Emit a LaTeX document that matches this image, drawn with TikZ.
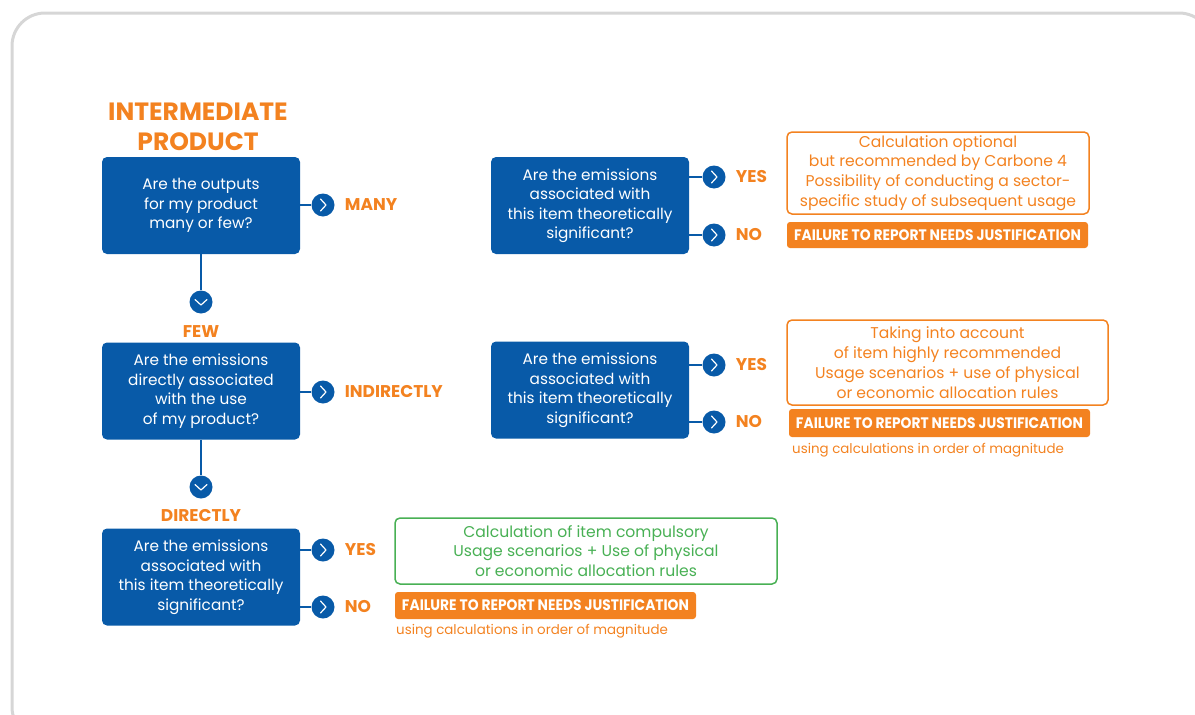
\documentclass[tikz,border=0pt]{standalone}
\usepackage{fontspec}
\setmainfont{Poppins}
\newfontfamily\narrowfont[FakeStretch=0.91]{Poppins}
\usetikzlibrary{positioning}

\definecolor{qblue}{RGB}{8,90,168}
\definecolor{qorange}{RGB}{243,130,32}
\definecolor{qgreen}{RGB}{72,176,84}
\definecolor{qframe}{RGB}{214,214,214}

\begin{document}
\begin{tikzpicture}[x=1pt, y=-1pt,
    question/.style={fill=qblue, rounded corners=5pt, minimum width=198pt, minimum height=97pt,
        inner sep=0pt, text=white, align=center, font=\fontsize{15.3}{19.5}\selectfont},
    dot/.style={circle, fill=qblue, minimum size=23pt, inner sep=0pt},
    link/.style={qblue, line width=2pt},
    answer/.style={text=qorange, inner sep=0pt, font=\fontsize{17}{19}\selectfont\bfseries},
    advice/.style={draw=qorange, line width=1.5pt, rounded corners=5pt, text=qorange, align=center,
        inner sep=0pt, font=\fontsize{15.6}{19.8}\selectfont},
    failure/.style={fill=qorange, rounded corners=3pt, minimum width=301pt, inner sep=0pt,
        text=white, font=\narrowfont\fontsize{15.2}{17}\selectfont\bfseries},
    note/.style={text=qorange, anchor=west, inner sep=0pt, font=\fontsize{13.4}{15}\selectfont},
    chevron/.pic={\draw[white, line width=1.2pt, line cap=round, line join=round]
        (-2.5,-6) -- (3,0) -- (-2.5,6);}]

    % Frame
    \clip (0,0) rectangle (1195,715);
    \draw[qframe, line width=3pt, rounded corners=33pt] (12,13) rectangle (1212,740);

    % Title
    \node[text=qorange, align=center, inner sep=0pt, font=\fontsize{25}{30}\selectfont\bfseries]
        (title) at (198,127) {INTERMEDIATE\\PRODUCT};

    % Left column of questions
    \node[question] (outputs) at (201,205.5) {Are the outputs\\for my product\\many or few?};
    \node[question] (usage) at (201,391) {Are the emissions\\directly associated\\with the use\\of my product?};
    \node[question] (sigdirect) at (201,577) {Are the emissions\\associated with\\this item theoretically\\significant?};

    % Right column of questions
    \node[question] (sigmany) at (590,205.5) {Are the emissions\\associated with\\this item theoretically\\significant?};
    \node[question] (sigindirect) at (590,390) {Are the emissions\\associated with\\this item theoretically\\significant?};

    % Branch dots
    \node[dot] (manydot) at (323,205) {};
    \node[dot] (fewdot) at (201,302) {};
    \node[dot] (inddot) at (323,392) {};
    \node[dot] (dirdot) at (201,487) {};
    \node[dot] (yesdot1) at (714,177) {};
    \node[dot] (nodot1) at (714,235) {};
    \node[dot] (yesdot2) at (714,365) {};
    \node[dot] (nodot2) at (714,422) {};
    \node[dot] (yesdot3) at (323,550) {};
    \node[dot] (nodot3) at (323,607) {};

    \foreach \d in {manydot, inddot, yesdot1, nodot1, yesdot2, nodot2, yesdot3, nodot3}
        \pic at (\d) {chevron};
    \foreach \d in {fewdot, dirdot}
        \pic[rotate=-90] at (\d) {chevron};

    % Connectors
    \draw[link] (outputs) -- (fewdot);
    \draw[link] (usage) -- (dirdot);
    \draw[link] (outputs.east |- manydot) -- (manydot);
    \draw[link] (usage.east |- inddot) -- (inddot);
    \draw[link] (sigmany.east |- yesdot1) -- (yesdot1);
    \draw[link] (sigmany.east |- nodot1) -- (nodot1);
    \draw[link] (sigindirect.east |- yesdot2) -- (yesdot2);
    \draw[link] (sigindirect.east |- nodot2) -- (nodot2);
    \draw[link] (sigdirect.east |- yesdot3) -- (yesdot3);
    \draw[link] (sigdirect.east |- nodot3) -- (nodot3);

    % Answers
    \node[answer, right=10pt of manydot] (many) {MANY};
    \node[answer, below=12pt of fewdot] (few) {FEW};
    \node[answer, right=10pt of inddot] (indirectly) {INDIRECTLY};
    \node[answer, below=11pt of dirdot] (directly) {DIRECTLY};
    \node[answer, right=10pt of yesdot1] (yes1) {YES};
    \node[answer, right=10pt of nodot1] (no1) {NO};
    \node[answer, right=10pt of yesdot2] (yes2) {YES};
    \node[answer, right=10pt of nodot2] (no2) {NO};
    \node[answer, right=10pt of yesdot3] (yes3) {YES};
    \node[answer, right=10pt of nodot3] (no3) {NO};

    % Outcomes
    \node[advice, minimum width=302pt, minimum height=82pt] (optional) at (938,173)
        {Calculation optional\\but recommended by Carbone 4\\Possibility of conducting a sector-\\specific study of subsequent usage};
    \node[failure, minimum height=26pt] (fail1) at (937.5,235) {FAILURE TO REPORT NEEDS JUSTIFICATION};

    \node[advice, minimum width=321pt, minimum height=85pt] (recommended) at (947.5,362.5)
        {Taking into account\\of item highly recommended\\Usage scenarios + use of physical\\or economic allocation rules};
    \node[failure, minimum height=28pt] (fail2) at (939.5,423) {FAILURE TO REPORT NEEDS JUSTIFICATION};
    \node[note] (mag2) at (792,450) {using calculations in order of magnitude};

    \node[advice, draw=qgreen, text=qgreen, minimum width=382pt, minimum height=66pt] (compulsory) at (586,551)
        {Calculation of item compulsory\\Usage scenarios + Use of physical\\or economic allocation rules};
    \node[failure, minimum height=27pt] (fail3) at (545.5,605.5) {FAILURE TO REPORT NEEDS JUSTIFICATION};
    \node[note] (mag3) at (396,631) {using calculations in order of magnitude};

\end{tikzpicture}
\end{document}
